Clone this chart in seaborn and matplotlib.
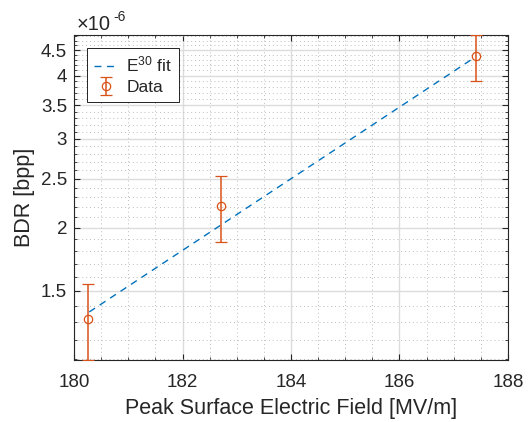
import matplotlib
matplotlib.use("Agg")
import matplotlib.pyplot as plt
import numpy as np
import pandas as pd
import seaborn as sns
from matplotlib.ticker import FixedLocator, NullFormatter, FixedFormatter

# values in units of 1e-6 bpp
field = [180.26, 182.71, 187.42]
bdr = [1.32, 2.21, 4.38]
bdr_low = [1.095, 1.874, 3.91]
bdr_high = [1.55, 2.53, 4.82]

fit_field = [180.28, 187.40]
fit_bdr = [1.363, 4.36]

y_major = [1.5, 2, 2.5, 3, 3.5, 4, 4.5]
y_major_labels = ["1.5", "2", "2.5", "3", "3.5", "4", "4.5"]
y_minor = [round(v, 1) for v in np.arange(1.1, 4.85, 0.1)]
x_major = [180, 182, 184, 186, 188]
x_minor = [180.5, 181, 181.5, 182.5, 183, 183.5, 184.5, 185, 185.5, 186.5, 187, 187.5]

BLUE = "#0072BD"
ORANGE = "#D95319"
AXCOL = "#262626"


def main() -> None:
    sns.set_theme(style="white")
    plt.rcParams["font.family"] = ["Liberation Sans", "DejaVu Sans"]
    plt.rcParams["mathtext.fontset"] = "custom"
    plt.rcParams["mathtext.rm"] = "Liberation Sans"
    plt.rcParams["mathtext.it"] = "Liberation Sans"

    fig = plt.figure(figsize=(5.29, 4.22), dpi=100)
    ax = fig.add_axes([0.140, 0.147, 0.820, 0.770])

    fit_df = pd.DataFrame({"E": fit_field, "BDR": fit_bdr})
    sns.lineplot(data=fit_df, x="E", y="BDR", ax=ax, color=BLUE, linewidth=1.0,
                 linestyle=(0, (5, 4)), label="E$^{30}$ fit", zorder=3)

    bdr_arr = np.array(bdr)
    yerr = [bdr_arr - np.array(bdr_low), np.array(bdr_high) - bdr_arr]
    ax.errorbar(field, bdr, yerr=yerr, fmt="o", color=ORANGE, mfc="none",
                markersize=6, capsize=4, elinewidth=1.1, capthick=1.1,
                markeredgewidth=0.9, label="Data", zorder=4)

    ax.set_yscale("log")
    ax.set_xlim(180, 188)
    ax.set_ylim(bdr_low[0], bdr_high[2])

    ax.yaxis.set_major_locator(FixedLocator(y_major))
    ax.yaxis.set_major_formatter(FixedFormatter(y_major_labels))
    ax.yaxis.set_minor_locator(FixedLocator([v for v in y_minor if v not in y_major]))
    ax.yaxis.set_minor_formatter(NullFormatter())
    ax.xaxis.set_major_locator(FixedLocator(x_major))
    ax.xaxis.set_minor_locator(FixedLocator(x_minor))

    ax.grid(which="major", color="#dcdcdc", linewidth=1.0, linestyle="-")
    ax.grid(which="minor", color="#bdbdbd", linewidth=0.7, linestyle=(0, (1, 3)))
    ax.set_axisbelow(True)

    ax.tick_params(which="both", direction="in", top=True, right=True,
                   bottom=True, left=True, colors=AXCOL, labelcolor=AXCOL)
    ax.tick_params(which="major", length=4, width=0.8, labelsize=13.5)
    ax.tick_params(axis="x", which="major", pad=10)
    ax.tick_params(axis="y", which="major", pad=5)
    ax.tick_params(which="minor", length=2.5, width=0.6)
    for s in ax.spines.values():
        s.set_color(AXCOL)
        s.set_linewidth(0.8)

    ax.set_xlabel("Peak Surface Electric Field [MV/m]", fontsize=15.5, color=AXCOL, labelpad=5)
    ax.set_ylabel("BDR [bpp]", fontsize=15.5, color=AXCOL, labelpad=4)
    # MATLAB-style exponent label above the y axis
    ax.text(0.006, 1.014, "\u00d710", transform=ax.transAxes, fontsize=14.5,
            color=AXCOL, ha="left", va="baseline")
    ax.text(0.090, 1.043, "-6", transform=ax.transAxes, fontsize=10,
            color=AXCOL, ha="left", va="baseline")

    leg = ax.legend(loc="upper left", bbox_to_anchor=(0.03, 0.96), fontsize=12.5,
                    frameon=True, fancybox=False, framealpha=1, edgecolor="black",
                    handlelength=1.4, handletextpad=0.45, borderpad=0.4,
                    labelspacing=0.3, borderaxespad=0)
    leg.get_frame().set_linewidth(0.6)

    fig.savefig("out.png", dpi=100)


if __name__ == "__main__":
    main()
